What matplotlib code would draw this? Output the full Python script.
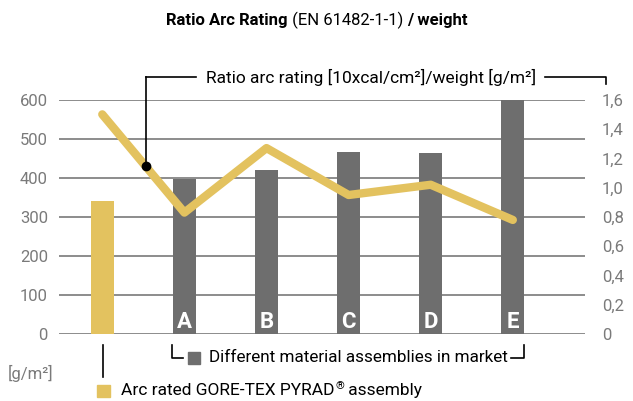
import matplotlib
matplotlib.use("Agg")
import matplotlib.pyplot as plt
import numpy as np

plt.rcParams['font.family'] = ['Roboto', 'DejaVu Sans']

# Data
categories = ["GORE-TEX PYRAD", "A", "B", "C", "D", "E"]
weights = [342, 396, 421, 465, 463, 603]          # g/m2 (left axis)
ratio = [1.50, 0.83, 1.27, 0.95, 1.02, 0.78]       # right axis
left_ticks = [0, 100, 200, 300, 400, 500, 600]
right_ticks = [0, 0.2, 0.4, 0.6, 0.8, 1.0, 1.2, 1.4, 1.6]
right_labels = ["0", "0,2", "0,4", "0,6", "0,8", "1,0", "1,2", "1,4", "1,6"]

GOLD = "#E3C25F"
GREY = "#6E6E6E"
GRID = "#8C8C8C"
TICKC = "#7A7A7A"

W, H = 633, 401
fig = plt.figure(figsize=(W / 100, H / 100), dpi=100)

def fx(px):
    return px / W

def fy(py):
    return 1 - py / H

ax_l, ax_r = 59, 585
ax_t, ax_b = 99.7, 334.3
ax = fig.add_axes([fx(ax_l), fy(ax_b), fx(ax_r) - fx(ax_l), fy(ax_t) - fy(ax_b)])
x = np.arange(len(categories))
ax.set_xlim(-0.527, 5.879)
ax.set_ylim(0, 600)
for t in left_ticks:
    ax.axhline(t, color=GRID, lw=1.4, zorder=0)
colors = [GOLD] + [GREY] * 5
ax.bar(x, weights, width=0.276, color=colors, zorder=2)
for xi, c in zip(x[1:], categories[1:]):
    ax.text(xi, 16, c, ha='center', va='baseline', color='white',
            fontsize=16, fontweight='bold', zorder=3)
for s in ax.spines.values():
    s.set_visible(False)
ax.set_xticks([])
ax.set_yticks(left_ticks)
ax.set_yticklabels([str(t) for t in left_ticks], color=TICKC, fontsize=12)
ax.tick_params(axis='y', length=0, pad=8)
ax.patch.set_alpha(0)

ax2 = ax.twinx()
ax2.set_ylim(0, 1.6)
ax2.plot(x, ratio, color=GOLD, lw=6, solid_capstyle='round', solid_joinstyle='round', zorder=4)
for s in ax2.spines.values():
    s.set_visible(False)
ax2.set_yticks(right_ticks)
ax2.set_yticklabels(right_labels, color=TICKC, fontsize=12)
ax2.tick_params(axis='y', length=0, pad=12)

# annotation dot on the line
xd = 0.53
yd = np.interp(xd, x, ratio)
ax2.plot([xd], [yd], 'o', color='black', ms=6, zorder=5)

# leader lines (figure pixel coords)
lk = dict(color='black', lw=1.2, transform=fig.transFigure)
disp = ax2.transData.transform((xd, yd))
dot_px = (disp[0], H - disp[1])
fig.add_artist(plt.Line2D([fx(dot_px[0])] * 2, [fy(dot_px[1]), fy(77)], **lk))
fig.add_artist(plt.Line2D([fx(dot_px[0]), fx(196)], [fy(77), fy(77)], **lk))
fig.add_artist(plt.Line2D([fx(545), fx(605.5), fx(605.5)], [fy(77), fy(77), fy(84)], **lk))
fig.text(fx(371), fy(77), "Ratio arc rating [10xcal/cm²]/weight [g/m²]",
         ha='center', va='center', fontsize=12.5, color='black')

# bottom brackets
fig.add_artist(plt.Line2D([fx(102.5)] * 2, [fy(345), fy(377)], **lk))
fig.add_artist(plt.Line2D([fx(172), fx(172), fx(183)], [fy(345), fy(358), fy(358)], **lk))
fig.add_artist(plt.Line2D([fx(511), fx(524), fx(524)], [fy(358), fy(358), fy(345)], **lk))
fig.add_artist(plt.Rectangle((fx(188), fy(364)), fx(12), 12 / H, color=GREY, transform=fig.transFigure))
fig.text(fx(209), fy(358), "Different material assemblies in market", ha='left', va='center',
         fontsize=12.3, color='black')
fig.add_artist(plt.Rectangle((fx(97), fy(397)), fx(13), 12 / H, color=GOLD, transform=fig.transFigure))
fig.text(fx(8), fy(373), "[g/m²]", ha='left', va='center', fontsize=12, color=TICKC)

fig.canvas.draw()
r = fig.canvas.get_renderer()

# gold legend text with superscript ®
base = 395
t1 = fig.text(fx(121), fy(base), "Arc rated GORE-TEX PYRAD", ha='left', va='baseline',
              fontsize=12.5, color='black')
w1 = t1.get_window_extent(r).width
t2 = fig.text(fx(121 + w1 + 0.5), fy(base - 6), "®", ha='left', va='baseline', fontsize=8, color='black')
w2 = t2.get_window_extent(r).width
t3 = fig.text(fx(121 + w1 + w2 + 1), fy(base), " assembly", ha='left', va='baseline',
              fontsize=12.5, color='black')

# title pieces
parts = [("Ratio Arc Rating", 'bold'), (" (EN 61482-1-1) ", 'normal'), ("/ weight", 'bold')]
texts = [fig.text(0, fy(25), s, fontsize=12, fontweight=w, ha='left', va='baseline') for s, w in parts]
widths = [t.get_window_extent(r).width for t in texts]
start = 317 - sum(widths) / 2
for t, wd in zip(texts, widths):
    t.set_x(fx(start))
    start += wd

fig.savefig("out.png", dpi=100)
